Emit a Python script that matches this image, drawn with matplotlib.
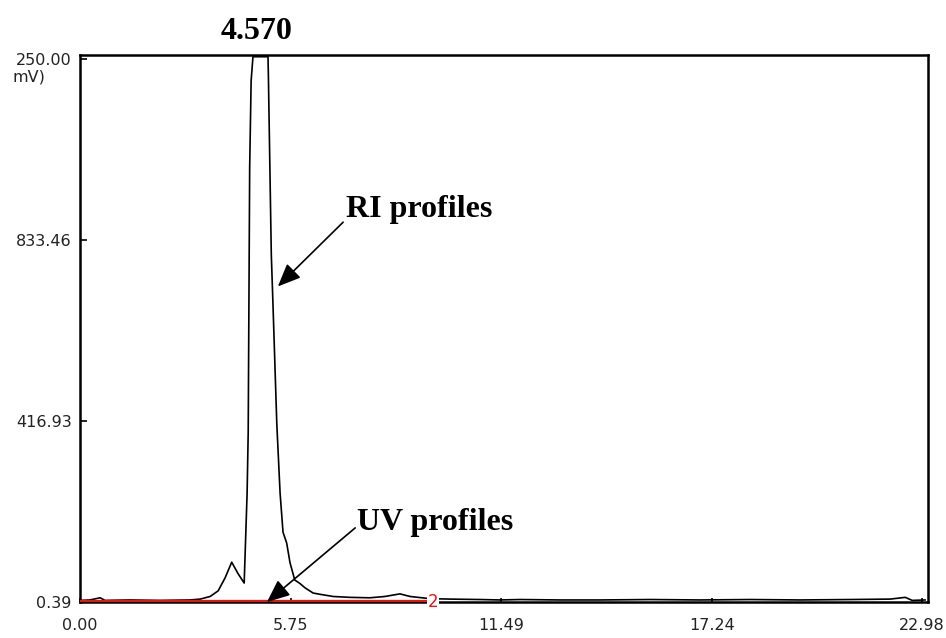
import matplotlib
matplotlib.use("Agg")
import matplotlib.pyplot as plt

# RI trace (time in min, signal in mV)
ri_time = [0.00, 0.27, 0.55, 0.68, 1.36, 2.18, 3.00, 3.28, 3.55, 3.77, 3.96,
           4.14, 4.31, 4.48, 4.56, 4.59, 4.63, 4.67, 4.72, 5.13, 5.14, 5.22,
           5.26, 5.37, 5.46, 5.54, 5.64, 5.73, 5.86, 6.00, 6.14, 6.36, 6.55,
           6.91, 7.37, 7.91, 8.32, 8.73, 9.01, 9.55, 10.10, 10.92, 11.46,
           12.01, 13.10, 14.19, 15.56, 16.92, 18.29, 19.65, 21.02, 22.11,
           22.52, 22.71, 23.06]
ri_signal = [3, 4, 9, 3, 4, 3, 4, 6, 12, 25, 55,
             91, 65, 43, 250, 390, 1000, 1200, 1255, 1255, 1215, 800,
             700, 410, 250, 160, 135, 90, 50, 42, 32, 20, 17,
             12, 10, 9, 12, 18, 12, 7, 6, 5, 4,
             5, 4, 4, 5, 4, 5, 4, 5, 6,
             10, 3, 4]

# UV trace (flat, red)
uv_time = [0.00, 9.50]
uv_signal = [2.5, 2.5]

x_ticks = [0.00, 5.75, 11.49, 17.24, 22.98]
x_labels = ["0.00", "5.75", "11.49", "17.24", "22.98"]
y_ticks = [0.39, 416.93, 833.46, 1250.00]
y_labels = ["0.39", "416.93", "833.46", "250.00"]

fig = plt.figure(figsize=(9.46, 6.38), dpi=100)
ax = fig.add_axes([80 / 946, 1 - 601.7 / 638, 848 / 946, 546.7 / 638])

ax.plot(uv_time, uv_signal, color="#ee1111", lw=1.6, zorder=3)
ax.plot(ri_time, ri_signal, color="black", lw=1.2, zorder=2)
ax.text(9.63, 0, "2", color="#ee1111", fontsize=12, ha="center", va="center",
        zorder=4, bbox=dict(facecolor="white", edgecolor="none", pad=0.5))

ax.set_xlim(0, 23.14)
ax.set_ylim(0, 1259)
ax.set_xticks(x_ticks)
ax.set_xticklabels(x_labels)
ax.set_yticks(y_ticks)
ax.set_yticklabels(y_labels)
ax.tick_params(axis="both", direction="in", labelsize=11.5, labelcolor="#222222",
               width=1.2, color="black")
ax.tick_params(axis="y", length=5, pad=6)
ax.tick_params(axis="x", length=3, pad=12)
for s in ax.spines.values():
    s.set_linewidth(1.8)

fig.text(12 / 946, 1 - 70 / 638, "mV)", fontsize=11.5, color="#222222",
         ha="left", va="top")

bold = dict(family="Liberation Serif", fontweight="bold", fontsize=23)
ax.text(4.83, 1296, "4.570", ha="center", va="baseline", **bold)
ax.text(7.26, 887, "RI profiles", ha="left", va="baseline", **bold)
ax.text(7.56, 165, "UV profiles", ha="left", va="baseline", **bold)

arrow = dict(arrowstyle="-|>,head_length=1.4,head_width=0.6", color="black",
             lw=1.2, shrinkA=0, shrinkB=0)
ax.annotate("", xy=(5.40, 726), xytext=(7.18, 874), arrowprops=arrow,
            annotation_clip=False)
ax.annotate("", xy=(5.10, -1), xytext=(7.51, 170), arrowprops=arrow,
            annotation_clip=False)

fig.savefig("out.png", dpi=100)
